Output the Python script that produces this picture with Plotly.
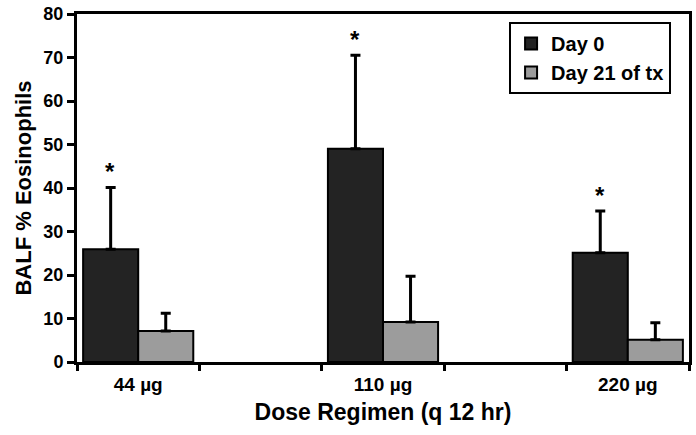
import plotly.graph_objects as go

categories = ["44 µg", " ", "110 µg", "  ", "220 µg"]
day0_values = [25.9, None, 49.0, None, 25.1]
day0_errors = [14.2, None, 21.5, None, 9.6]
day21_values = [7.1, None, 9.2, None, 5.1]
day21_errors = [4.1, None, 10.5, None, 3.9]
series_names = ["Day 0", "Day 21 of tx"]
significant = [True, None, True, None, True]

FONT = "Liberation Sans, Arial, sans-serif"

fig = go.Figure()
fig.add_trace(go.Bar(
    x=categories, y=day0_values, name=series_names[0],
    marker=dict(color="#232323", line=dict(color="black", width=2)),
    error_y=dict(type="data", array=day0_errors, symmetric=False,
                 arrayminus=[0] * len(categories), color="black",
                 thickness=3, width=5),
))
fig.add_trace(go.Bar(
    x=categories, y=day21_values, name=series_names[1],
    marker=dict(color="#9c9c9c", line=dict(color="black", width=2)),
    error_y=dict(type="data", array=day21_errors, symmetric=False,
                 arrayminus=[0] * len(categories), color="black",
                 thickness=3, width=5),
))

for c, v, e, s in zip(categories, day0_values, day0_errors, significant):
    if s:
        fig.add_annotation(x=c, y=v + e, text="*", showarrow=False,
                           xshift=-28, yshift=16,
                           font=dict(family=FONT, size=24, color="black", weight="bold"))

fig.update_layout(
    width=696, height=435,
    margin=dict(l=77, r=4, t=10, b=73),
    paper_bgcolor="white", plot_bgcolor="white",
    barmode="group", bargap=0.1, bargroupgap=0,
    font=dict(family=FONT, color="black"),
    showlegend=True,
    legend=dict(x=0.706, y=0.977, xanchor="left", yanchor="top",
                bordercolor="black", borderwidth=2, bgcolor="white",
                font=dict(family=FONT, size=20, color="black", weight="bold"),
                itemwidth=30, tracegroupgap=2),
)
fig.update_xaxes(
    type="category", categoryorder="array", categoryarray=categories,
    showline=True, linecolor="black", linewidth=3, mirror=True,
    ticks="outside", tickson="boundaries", ticklen=6, tickwidth=3, tickcolor="black",
    ticklabelstandoff=3,
    tickfont=dict(family=FONT, size=19, color="black", weight="bold"),
    title=dict(text="Dose Regimen (q 12 hr)", standoff=11,
               font=dict(family=FONT, size=23, color="black", weight="bold")),
    showgrid=False,
)
fig.update_yaxes(
    range=[0, 80], dtick=10,
    showline=True, linecolor="black", linewidth=3, mirror=True,
    ticks="outside", ticklen=7, tickwidth=3, tickcolor="black",
    tickfont=dict(family=FONT, size=18, color="black", weight="bold"),
    title=dict(text="BALF % Eosinophils", standoff=6,
               font=dict(family=FONT, size=22, color="black", weight="bold")),
    showgrid=False, zeroline=False,
)

fig.write_html("out.html", config={"displayModeBar": False},
               post_script="document.body.style.margin='0';")
